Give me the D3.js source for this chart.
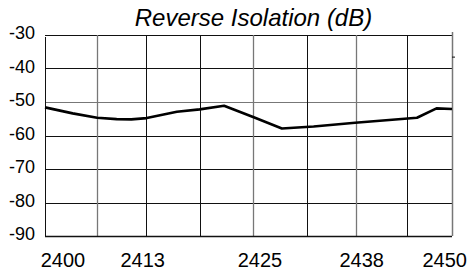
<!DOCTYPE html>
<html>
<head>
<meta charset="utf-8">
<script src="https://cdn.jsdelivr.net/npm/d3@7"></script>
<style>
  html, body { margin: 0; padding: 0; background: #fff; }
  text { font-family: "Liberation Sans", Arial, sans-serif; fill: #000; }
</style>
</head>
<body>
<div id="chart"></div>
<script>
// Data
const freqMHz = [2400, 2403.4, 2406.4, 2408.8, 2410.6, 2412.5, 2416.2, 2419, 2422, 2425.8, 2429.1, 2433, 2438.1, 2445.7, 2448.1, 2450];
const isolationDb = [-51.6, -53.4, -54.7, -55.1, -55.2, -54.8, -52.9, -52.2, -51.1, -54.7, -57.9, -57.3, -56.2, -54.7, -51.9, -52.1];

const yTicks = [-30, -40, -50, -60, -70, -80, -90];
const gridFreqs = [2406.4, 2412.4, 2419.0, 2425.6, 2432.2, 2438.2, 2444.5];
const grayGridFreqs = [2406.4, 2425.6, 2438.2];
const xLabels = ["2400", "2413", "2425", "2438", "2450"];
const xLabelFreqs = [2402.2, 2412.0, 2426.4, 2438.9, 2449.1];

const totalWidth = 470;
const totalHeight = 272;
const margin = { top: 35, right: 18, bottom: 36, left: 45 };
const width = totalWidth - margin.left - margin.right;
const height = totalHeight - margin.top - margin.bottom;

const svgRoot = d3.select("#chart")
    .append("svg")
    .attr("width", totalWidth)
    .attr("height", totalHeight);

const svg = svgRoot.append("g")
    .attr("transform", `translate(${margin.left},${margin.top})`);

const x = d3.scaleLinear().domain([2400, 2450]).range([0, width]);
const y = d3.scaleLinear().domain([-30, -90]).range([0, height]);

// Horizontal grid
svg.append("g")
    .selectAll("line")
    .data(yTicks)
    .enter()
    .append("line")
    .attr("x1", 0)
    .attr("x2", width)
    .attr("y1", d => Math.round(y(d)) + 0.5)
    .attr("y2", d => Math.round(y(d)) + 0.5)
    .attr("stroke", d => d === -50 ? "#777" : "#111")
    .attr("stroke-width", 1);

// Vertical grid
svg.append("g")
    .selectAll("line")
    .data(gridFreqs)
    .enter()
    .append("line")
    .attr("x1", d => Math.round(x(d)) + 0.5)
    .attr("x2", d => Math.round(x(d)) + 0.5)
    .attr("y1", 0)
    .attr("y2", height)
    .attr("stroke", d => grayGridFreqs.includes(d) ? "#777" : "#111")
    .attr("stroke-width", d => grayGridFreqs.includes(d) ? 1.3 : 1);

// Left axis + bottom axis lines
svg.append("line")
    .attr("x1", 0.5).attr("x2", 0.5)
    .attr("y1", 2).attr("y2", height)
    .attr("stroke", "#111");
svg.append("line")
    .attr("x1", 0).attr("x2", width)
    .attr("y1", height + 0.5).attr("y2", height + 0.5)
    .attr("stroke", "#111").attr("stroke-width", 1.3);

// Right border, runs a bit above the plot
svg.append("line")
    .attr("x1", width + 0.5).attr("x2", width + 0.5)
    .attr("y1", -3).attr("y2", height)
    .attr("stroke", "#777").attr("stroke-width", 1.5);
svg.append("line")
    .attr("x1", width).attr("x2", width + 3)
    .attr("y1", y(-36.6)).attr("y2", y(-36.6))
    .attr("stroke", "#111");

// Y labels
svg.append("g")
    .selectAll("text")
    .data(yTicks)
    .enter()
    .append("text")
    .attr("x", -10)
    .attr("y", d => y(d) - 2)
    .attr("dy", "0.35em")
    .attr("text-anchor", "end")
    .attr("font-size", 18)
    .text(d => d);

// X labels
svg.append("g")
    .selectAll("text")
    .data(xLabels)
    .enter()
    .append("text")
    .attr("x", (d, i) => x(xLabelFreqs[i]))
    .attr("y", height + 31)
    .attr("text-anchor", "middle")
    .attr("font-size", 20)
    .text(d => d);

// Title
svgRoot.append("text")
    .attr("x", 253.5)
    .attr("y", 26)
    .attr("text-anchor", "middle")
    .attr("font-size", 24)
    .attr("font-style", "italic")
    .text("Reverse Isolation (dB)");

// Data line
const points = freqMHz.map((f, i) => ({ f: f, v: isolationDb[i] }));
svg.append("path")
    .datum(points)
    .attr("fill", "none")
    .attr("stroke", "#000")
    .attr("stroke-width", 2.6)
    .attr("stroke-linejoin", "round")
    .attr("d", d3.line()
        .x(d => x(d.f))
        .y(d => y(d.v)));
</script>
</body>
</html>
